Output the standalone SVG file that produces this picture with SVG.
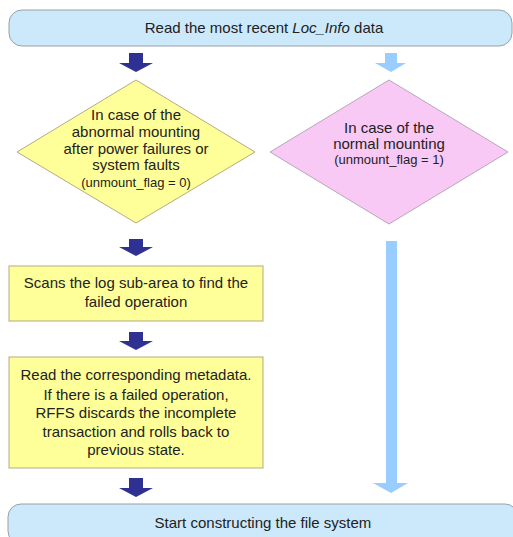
<svg xmlns="http://www.w3.org/2000/svg" width="513" height="537" viewBox="0 0 513 537">
<defs>
<style>
text{font-family:"Liberation Sans",Arial,sans-serif;font-size:15px;fill:#222;text-anchor:middle}
.sm{font-size:13px}
.term{fill:#cce9fb;stroke:#9aa0a6;stroke-width:1}
.yel{fill:#ffff99;stroke:#b5ab80;stroke-width:1}
.pink{fill:#f9c9f6;stroke:#b9a6bb;stroke-width:1}
.dark{fill:#2e3192}
.light{fill:#99ccff}
</style>
</defs>
<rect width="513" height="537" fill="#ffffff"/>
<g id="start">
<rect class="term" x="9" y="10" width="503" height="36" rx="13"/>
<text x="264" y="33">Read the most recent <tspan font-style="italic">Loc_Info</tspan> data</text>
</g>
<g id="abnormal">
<polygon class="yel" points="136,80 255,152 136,223 17,152"/>
<text x="136" y="120">In case of the</text>
<text x="136" y="137">abnormal mounting</text>
<text x="136" y="154">after power failures or</text>
<text x="136" y="170">system faults</text>
<text class="sm" x="136" y="187">(unmount_flag = 0)</text>
</g>
<g id="normal">
<polygon class="pink" points="389,80 508,152 389,224 270,152"/>
<text x="389" y="133">In case of the</text>
<text x="389" y="149">normal mounting</text>
<text class="sm" x="389" y="164">(unmount_flag = 1)</text>
</g>
<g id="scan">
<rect class="yel" x="9" y="266" width="254" height="55"/>
<text x="136" y="288">Scans the log sub-area to find the</text>
<text x="136" y="307">failed operation</text>
</g>
<g id="rollback">
<rect class="yel" x="9" y="357" width="254" height="111"/>
<text x="136" y="380">Read the corresponding metadata.</text>
<text x="136" y="400">If there is a failed operation,</text>
<text x="136" y="418">RFFS discards the incomplete</text>
<text x="136" y="437">transaction and rolls back to</text>
<text x="136" y="455">previous state.</text>
</g>
<g id="end">
<rect class="term" x="8" y="504" width="510" height="40" rx="13"/>
<text x="263" y="528">Start constructing the file system</text>
</g>
<g id="connectors">
<polygon class="dark" points="129,53 143,53 143,63 153,63 136,72 119,63 129,63"/>
<polygon class="light" points="385,53 397,53 397,63 406,63 391,72 375,63 385,63"/>
<polygon class="dark" points="129,239 143,239 143,247 153,247 136,256 119,247 129,247"/>
<polygon class="dark" points="129,332 143,332 143,341 153,341 136,350 119,341 129,341"/>
<polygon class="dark" points="129,478 143,478 143,488 153,488 136,497 119,488 129,488"/>
<polygon class="light" points="386,241 397,241 397,483 408,483 391,493 373,483 386,483"/>
</g>
</svg>
